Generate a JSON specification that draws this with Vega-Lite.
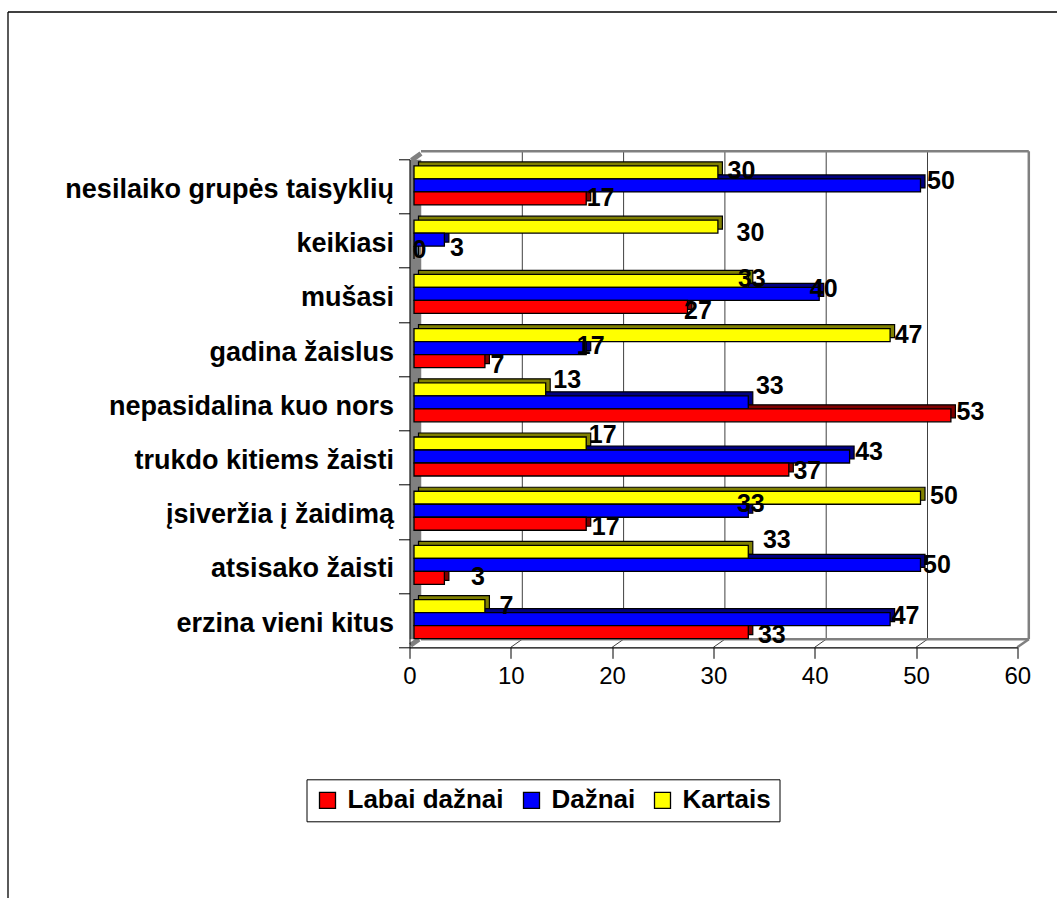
{
"$schema":"https://vega.github.io/schema/vega-lite/v6.json",
"width":607.8,"height":488,
"autosize":{"type":"none"},
"padding":{"left":409.5,"top":159.3,"right":39.7,"bottom":250.7},
"background":"white",
"config":{"view":{"stroke":null},"font":"Liberation Sans"},
"datasets":{
"d":[
{"c":"nesilaiko grupės taisyklių","s":"Kartais","v":30},{"c":"nesilaiko grupės taisyklių","s":"Dažnai","v":50},{"c":"nesilaiko grupės taisyklių","s":"Labai dažnai","v":17},
{"c":"keikiasi","s":"Kartais","v":30},{"c":"keikiasi","s":"Dažnai","v":3},{"c":"keikiasi","s":"Labai dažnai","v":0},
{"c":"mušasi","s":"Kartais","v":33},{"c":"mušasi","s":"Dažnai","v":40},{"c":"mušasi","s":"Labai dažnai","v":27},
{"c":"gadina žaislus","s":"Kartais","v":47},{"c":"gadina žaislus","s":"Dažnai","v":17},{"c":"gadina žaislus","s":"Labai dažnai","v":7},
{"c":"nepasidalina kuo nors","s":"Kartais","v":13},{"c":"nepasidalina kuo nors","s":"Dažnai","v":33},{"c":"nepasidalina kuo nors","s":"Labai dažnai","v":53},
{"c":"trukdo kitiems žaisti","s":"Kartais","v":17},{"c":"trukdo kitiems žaisti","s":"Dažnai","v":43},{"c":"trukdo kitiems žaisti","s":"Labai dažnai","v":37},
{"c":"įsiveržia į žaidimą","s":"Kartais","v":50},{"c":"įsiveržia į žaidimą","s":"Dažnai","v":33},{"c":"įsiveržia į žaidimą","s":"Labai dažnai","v":17},
{"c":"atsisako žaisti","s":"Kartais","v":33},{"c":"atsisako žaisti","s":"Dažnai","v":50},{"c":"atsisako žaisti","s":"Labai dažnai","v":3},
{"c":"erzina vieni kitus","s":"Kartais","v":7},{"c":"erzina vieni kitus","s":"Dažnai","v":47},{"c":"erzina vieni kitus","s":"Labai dažnai","v":33}
],
"g":[{"t":0,"b":60},{"t":10},{"t":20},{"t":30},{"t":40},{"t":50},{"t":60}]
},
"data":{"name":"d"},
"resolve":{"scale":{"yOffset":"independent"}},
"layer":[
{"data":{"values":[{"t":0}]},"mark":{"type":"rule","color":"#808080","strokeWidth":11.5,"xOffset":6,"yOffset":0.5,"y2Offset":19},
 "encoding":{"x":{"field":"t","type":"quantitative","title":null},"y":{"datum":"nesilaiko grupės taisyklių","bandPosition":0,"type":"nominal","title":null},"y2":{"datum":"erzina vieni kitus"}}},
{"data":{"values":[{"t":0}]},"mark":{"type":"rule","color":"#808080","strokeWidth":5,"xOffset":2,"x2Offset":11.5,"yOffset":1,"y2Offset":-33},
 "encoding":{"x":{"field":"t","type":"quantitative","title":null},"x2":{"field":"t"},"y":{"datum":"nesilaiko grupės taisyklių","bandPosition":0,"type":"nominal","title":null},"y2":{"datum":"nesilaiko grupės taisyklių"}}},
{"data":{"values":[{"t":0}]},"mark":{"type":"rule","color":"#808080","strokeWidth":5,"xOffset":1,"x2Offset":9.5,"yOffset":-2,"y2Offset":19},
 "encoding":{"x":{"field":"t","type":"quantitative","title":null},"x2":{"field":"t"},"y":{"datum":"erzina vieni kitus","bandPosition":1,"type":"nominal","title":null},"y2":{"datum":"erzina vieni kitus"}}},
{"data":{"name":"g"},"transform":[{"filter":"datum.t>0&&datum.t<60"}],
 "mark":{"type":"rule","color":"#404040","strokeWidth":1,"xOffset":11.5,"yOffset":-8,"y2Offset":19},
 "encoding":{"x":{"field":"t","type":"quantitative","title":null},"y":{"datum":"nesilaiko grupės taisyklių","bandPosition":0,"type":"nominal","title":null},"y2":{"datum":"erzina vieni kitus"}}},
{"data":{"name":"g"},"transform":[{"filter":"datum.t>0&&datum.t<60"}],
 "mark":{"type":"rule","color":"#404040","strokeWidth":1,"x2Offset":11.5,"y2Offset":19},
 "encoding":{"x":{"field":"t","type":"quantitative","title":null},"x2":{"field":"t"},"y":{"datum":"erzina vieni kitus","bandPosition":1,"type":"nominal","title":null},"y2":{"datum":"erzina vieni kitus"}}},
{"data":{"name":"g"},"transform":[{"filter":"datum.t==60"}],
 "mark":{"type":"rule","color":"#808080","strokeWidth":2.5,"xOffset":11.5,"yOffset":-8,"y2Offset":19},
 "encoding":{"x":{"field":"t","type":"quantitative","title":null},"y":{"datum":"nesilaiko grupės taisyklių","bandPosition":0,"type":"nominal","title":null},"y2":{"datum":"erzina vieni kitus"}}},
{"data":{"name":"g"},"transform":[{"filter":"datum.t==60"}],
 "mark":{"type":"rule","color":"#808080","strokeWidth":2.5,"x2Offset":11.5,"y2Offset":19},
 "encoding":{"x":{"field":"t","type":"quantitative","title":null},"x2":{"field":"t"},"y":{"datum":"erzina vieni kitus","bandPosition":1,"type":"nominal","title":null},"y2":{"datum":"erzina vieni kitus"}}},
{"data":{"values":[{"a":0,"b":60}]},
 "mark":{"type":"rule","color":"#808080","strokeWidth":2.5,"xOffset":11.5,"x2Offset":11.5,"yOffset":-8},
 "encoding":{"x":{"field":"a","type":"quantitative","title":null},"x2":{"field":"b"},"y":{"datum":"nesilaiko grupės taisyklių","bandPosition":0,"type":"nominal","title":null}}},
{"data":{"values":[{"a":0,"b":60}]},
 "mark":{"type":"rule","color":"#808080","strokeWidth":2.5,"xOffset":11.5,"x2Offset":11.5,"yOffset":-8},
 "encoding":{"x":{"field":"a","type":"quantitative","title":null},"x2":{"field":"b"},"y":{"datum":"erzina vieni kitus","bandPosition":1,"type":"nominal","title":null}}},
{"data":{"values":[{"a":0,"b":60}]},
 "mark":{"type":"rule","color":"black","strokeWidth":1.3,"xOffset":-401.5,"x2Offset":40,"yOffset":-147.3},
 "encoding":{"x":{"field":"a","type":"quantitative","title":null},"x2":{"field":"b"},"y":{"datum":"nesilaiko grupės taisyklių","bandPosition":0,"type":"nominal","title":null}}},
{"data":{"values":[{"a":0}]},
 "mark":{"type":"rule","color":"black","strokeWidth":1.3,"xOffset":-401.5,"yOffset":-147.3,"y2Offset":278},
 "encoding":{"x":{"field":"a","type":"quantitative","title":null},"y":{"datum":"nesilaiko grupės taisyklių","bandPosition":0,"type":"nominal","title":null},"y2":{"datum":"erzina vieni kitus"}}},
{"mark":{"type":"bar","stroke":"black","strokeWidth":1.2,"xOffset":9,"x2Offset":9},
 "encoding":{
  "x":{"field":"v","type":"quantitative","title":null},
  "y":{"field":"c","type":"nominal","title":null},
  "yOffset":{"field":"s","sort":["Kartais","Dažnai","Labai dažnai"],"scale":{"paddingInner":0,"paddingOuter":0.585,"range":[-5,49.2]}},
  "color":{"field":"s","legend":null,"scale":{"domain":["Kartais","Dažnai","Labai dažnai"],"range":["#808000","#000080","#800000"]}}}},
{"mark":{"type":"bar","stroke":"black","strokeWidth":1.3,"xOffset":4.5,"x2Offset":4.5},
 "encoding":{
  "x":{"field":"v","type":"quantitative","title":null,"scale":{"domain":[0,60],"nice":false},
    "axis":{"values":[0,10,20,30,40,50,60],"grid":false,"domainColor":"black","tickColor":"black","tickSize":11,"domainWidth":1.3,"tickWidth":1,"labelFont":"Liberation Sans","labelFontSize":24,"labelColor":"black","labelPadding":6,"labelFlush":false,"zindex":1}},
  "y":{"field":"c","type":"nominal","title":null,
    "sort":["nesilaiko grupės taisyklių","keikiasi","mušasi","gadina žaislus","nepasidalina kuo nors","trukdo kitiems žaisti","įsiveržia į žaidimą","atsisako žaisti","erzina vieni kitus"],
    "scale":{"domain":["nesilaiko grupės taisyklių","keikiasi","mušasi","gadina žaislus","nepasidalina kuo nors","trukdo kitiems žaisti","įsiveržia į žaidimą","atsisako žaisti","erzina vieni kitus"],"paddingInner":0,"paddingOuter":0},
    "axis":{"tickBand":"extent","domainColor":"black","tickColor":"black","tickSize":11,"labelFont":"Liberation Sans","labelFontWeight":"bold","labelFontSize":27,"labelColor":"black","labelPadding":5,"labelOffset":3,"labelLimit":400,"zindex":1}},
  "yOffset":{"field":"s","sort":["Kartais","Dažnai","Labai dažnai"],"scale":{"paddingInner":0,"paddingOuter":0.585,"range":[-1,53.2]}},
  "fill":{"field":"s","title":null,"scale":{"domain":["Labai dažnai","Dažnai","Kartais"],"range":["#ff0000","#0000ff","#ffff00"]},
    "legend":{"orient":"none","legendX":-103,"legendY":620,"direction":"horizontal","columns":3,"symbolType":"square","symbolSize":256,"symbolStrokeColor":"black","symbolStrokeWidth":1.3,"labelFont":"Liberation Sans","labelFontWeight":"bold","labelFontSize":26,"labelColor":"black","labelLimit":300,"strokeColor":"black","fillColor":"white","padding":8,"columnPadding":14,"labelOffset":7}}}},
{"encoding":{
  "x":{"field":"v","type":"quantitative","title":null},
  "y":{"field":"c","type":"nominal","title":null},
  "yOffset":{"field":"s","sort":["Kartais","Dažnai","Labai dažnai"]},
  "text":{"field":"v","type":"quantitative"}},
 "layer":[
{"transform":[{"filter":"datum.c=='nesilaiko grupės taisyklių'&&datum.s=='Kartais'"}],"mark":{"type":"text","font":"Liberation Sans","fontWeight":"bold","fontSize":25,"color":"black","dx":28,"dy":3}},
{"transform":[{"filter":"datum.c=='nesilaiko grupės taisyklių'&&datum.s=='Dažnai'"}],"mark":{"type":"text","font":"Liberation Sans","fontWeight":"bold","fontSize":25,"color":"black","dx":25,"dy":-5}},
{"transform":[{"filter":"datum.c=='nesilaiko grupės taisyklių'&&datum.s=='Labai dažnai'"}],"mark":{"type":"text","font":"Liberation Sans","fontWeight":"bold","fontSize":25,"color":"black","dx":19,"dy":-6}},
{"transform":[{"filter":"datum.c=='keikiasi'&&datum.s=='Kartais'"}],"mark":{"type":"text","font":"Liberation Sans","fontWeight":"bold","fontSize":25,"color":"black","dx":37,"dy":10}},
{"transform":[{"filter":"datum.c=='keikiasi'&&datum.s=='Dažnai'"}],"mark":{"type":"text","font":"Liberation Sans","fontWeight":"bold","fontSize":25,"color":"black","dx":17,"dy":7}},
{"transform":[{"filter":"datum.c=='keikiasi'&&datum.s=='Labai dažnai'"}],"mark":{"type":"text","font":"Liberation Sans","fontWeight":"bold","fontSize":25,"color":"black","dx":10,"dy":-9}},
{"transform":[{"filter":"datum.c=='mušasi'&&datum.s=='Kartais'"}],"mark":{"type":"text","font":"Liberation Sans","fontWeight":"bold","fontSize":25,"color":"black","dx":8,"dy":2}},
{"transform":[{"filter":"datum.c=='mušasi'&&datum.s=='Dažnai'"}],"mark":{"type":"text","font":"Liberation Sans","fontWeight":"bold","fontSize":25,"color":"black","dx":9,"dy":-6}},
{"transform":[{"filter":"datum.c=='mušasi'&&datum.s=='Labai dažnai'"}],"mark":{"type":"text","font":"Liberation Sans","fontWeight":"bold","fontSize":25,"color":"black","dx":15,"dy":-2}},
{"transform":[{"filter":"datum.c=='gadina žaislus'&&datum.s=='Kartais'"}],"mark":{"type":"text","font":"Liberation Sans","fontWeight":"bold","fontSize":25,"color":"black","dx":23,"dy":4}},
{"transform":[{"filter":"datum.c=='gadina žaislus'&&datum.s=='Dažnai'"}],"mark":{"type":"text","font":"Liberation Sans","fontWeight":"bold","fontSize":25,"color":"black","dx":9,"dy":-3}},
{"transform":[{"filter":"datum.c=='gadina žaislus'&&datum.s=='Labai dažnai'"}],"mark":{"type":"text","font":"Liberation Sans","fontWeight":"bold","fontSize":25,"color":"black","dx":17,"dy":-2}},
{"transform":[{"filter":"datum.c=='nepasidalina kuo nors'&&datum.s=='Kartais'"}],"mark":{"type":"text","font":"Liberation Sans","fontWeight":"bold","fontSize":25,"color":"black","dx":26,"dy":-5}},
{"transform":[{"filter":"datum.c=='nepasidalina kuo nors'&&datum.s=='Dažnai'"}],"mark":{"type":"text","font":"Liberation Sans","fontWeight":"bold","fontSize":25,"color":"black","dx":26,"dy":-17}},
{"transform":[{"filter":"datum.c=='nepasidalina kuo nors'&&datum.s=='Labai dažnai'"}],"mark":{"type":"text","font":"Liberation Sans","fontWeight":"bold","fontSize":25,"color":"black","dx":24,"dy":-9}},
{"transform":[{"filter":"datum.c=='trukdo kitiems žaisti'&&datum.s=='Kartais'"}],"mark":{"type":"text","font":"Liberation Sans","fontWeight":"bold","fontSize":25,"color":"black","dx":21,"dy":-4}},
{"transform":[{"filter":"datum.c=='trukdo kitiems žaisti'&&datum.s=='Dažnai'"}],"mark":{"type":"text","font":"Liberation Sans","fontWeight":"bold","fontSize":25,"color":"black","dx":24,"dy":-6}},
{"transform":[{"filter":"datum.c=='trukdo kitiems žaisti'&&datum.s=='Labai dažnai'"}],"mark":{"type":"text","font":"Liberation Sans","fontWeight":"bold","fontSize":25,"color":"black","dx":23,"dy":-5}},
{"transform":[{"filter":"datum.c=='įsiveržia į žaidimą'&&datum.s=='Kartais'"}],"mark":{"type":"text","font":"Liberation Sans","fontWeight":"bold","fontSize":25,"color":"black","dx":28,"dy":2}},
{"transform":[{"filter":"datum.c=='įsiveržia į žaidimą'&&datum.s=='Dažnai'"}],"mark":{"type":"text","font":"Liberation Sans","fontWeight":"bold","fontSize":25,"color":"black","dx":7,"dy":-8}},
{"transform":[{"filter":"datum.c=='įsiveržia į žaidimą'&&datum.s=='Labai dažnai'"}],"mark":{"type":"text","font":"Liberation Sans","fontWeight":"bold","fontSize":25,"color":"black","dx":24,"dy":-3}},
{"transform":[{"filter":"datum.c=='atsisako žaisti'&&datum.s=='Kartais'"}],"mark":{"type":"text","font":"Liberation Sans","fontWeight":"bold","fontSize":25,"color":"black","dx":33,"dy":-8}},
{"transform":[{"filter":"datum.c=='atsisako žaisti'&&datum.s=='Dažnai'"}],"mark":{"type":"text","font":"Liberation Sans","fontWeight":"bold","fontSize":25,"color":"black","dx":21,"dy":-1}},
{"transform":[{"filter":"datum.c=='atsisako žaisti'&&datum.s=='Labai dažnai'"}],"mark":{"type":"text","font":"Liberation Sans","fontWeight":"bold","fontSize":25,"color":"black","dx":38,"dy":-7}},
{"transform":[{"filter":"datum.c=='erzina vieni kitus'&&datum.s=='Kartais'"}],"mark":{"type":"text","font":"Liberation Sans","fontWeight":"bold","fontSize":25,"color":"black","dx":26,"dy":4}},
{"transform":[{"filter":"datum.c=='erzina vieni kitus'&&datum.s=='Dažnai'"}],"mark":{"type":"text","font":"Liberation Sans","fontWeight":"bold","fontSize":25,"color":"black","dx":20,"dy":-4}},
{"transform":[{"filter":"datum.c=='erzina vieni kitus'&&datum.s=='Labai dažnai'"}],"mark":{"type":"text","font":"Liberation Sans","fontWeight":"bold","fontSize":25,"color":"black","dx":28,"dy":-3}}
 ]}
]
}
